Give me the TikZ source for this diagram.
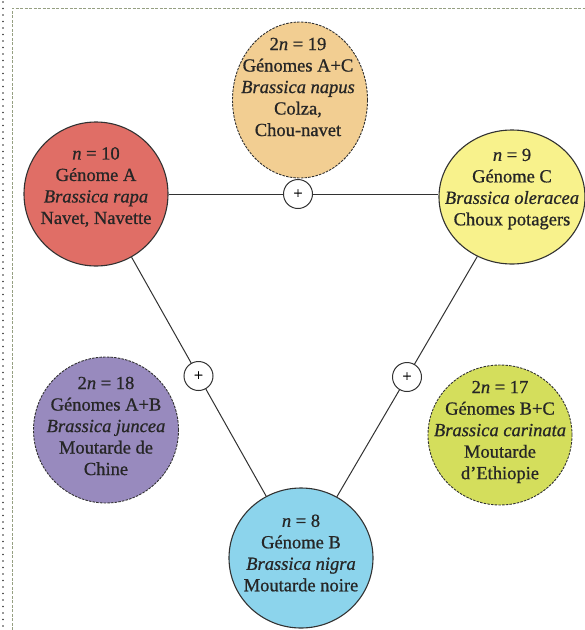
\documentclass[tikz,border=0pt]{standalone}
\usepackage{fontspec}
\setmainfont[FakeBold=0.8]{Liberation Serif}
\usetikzlibrary{shapes.geometric}
\definecolor{cA}{RGB}{224,110,102}
\definecolor{cAC}{RGB}{242,206,146}
\definecolor{cC}{RGB}{248,242,140}
\definecolor{cB}{RGB}{140,212,236}
\definecolor{cAB}{RGB}{152,138,190}
\definecolor{cBC}{RGB}{212,222,92}
\definecolor{lin}{RGB}{50,50,50}
\definecolor{frm}{RGB}{150,160,130}
\tikzset{
  gen/.style={ellipse, draw=lin, line width=1.1pt, inner sep=0pt},
  hyb/.style={ellipse, draw=lin, line width=0.9pt, dash pattern=on 2.5pt off 1.2pt, inner sep=0pt},
  txt/.style={align=center, font=\fontsize{18.5}{21.5}\selectfont, inner sep=0pt, text=black!85},
  plus/.style={circle, draw=lin, fill=white, line width=1pt, minimum size=29pt, inner sep=0pt, font=\fontsize{16}{16}\selectfont},
  conn/.style={draw=lin, line width=1pt}
}
\begin{document}
\begin{tikzpicture}[x=1pt,y=-1pt]
\useasboundingbox (0,0) rectangle (585,630);
% frame
\draw[frm, line width=0.8pt, dash pattern=on 3pt off 1.5pt] (12,630) -- (12,8) -- (585,8);
\draw[lin, line width=1.6pt, line cap=round, dash pattern=on 0pt off 6.5pt] (3,2) -- (3,630);
% genome circles
\node[gen, fill=cA, minimum width=144pt, minimum height=144pt] (A) at (96,194) {};
\node[gen, fill=cC, minimum width=146pt, minimum height=134pt] (C) at (512,197) {};
\node[gen, fill=cB, minimum width=144pt, minimum height=140pt] (B) at (301,558) {};
% hybrids
\node[hyb, fill=cAC, minimum width=135pt, minimum height=156pt] (AC) at (300,100) {};
\node[hyb, fill=cAB, minimum width=145pt, minimum height=146pt] (AB) at (106,430) {};
\node[hyb, fill=cBC, minimum width=144pt, minimum height=140pt] (BC) at (500,435) {};
% plus nodes
\node[plus] (p1) at (298,194) {+};
\node[plus] (p2) at (198.5,376) {+};
\node[plus] (p3) at (407,377) {+};
% connectors
\draw[conn] (A.east |- p1) -- (p1);
\draw[conn] (p1) -- (p1 -| C.west);
\draw[conn] (A) -- (p2);
\draw[conn] (p2) -- (B);
\draw[conn] (C) -- (p3);
\draw[conn] (p3) -- (B);
% texts
\node[txt] (tA) at (96,187) {\textit{n} = 10\\Génome A\\\textit{Brassica rapa}\\Navet, Navette};
\node[txt] (tC) at (512,189) {\textit{n} = 9\\Génome C\\\textit{Brassica oleracea}\\Choux potagers};
\node[txt] (tB) at (301,553) {\textit{n} = 8\\Génome B\\\textit{Brassica nigra}\\Moutarde noire};
\node[txt] (tAC) at (298,87) {2\textit{n} = 19\\Génomes A+C\\\textit{Brassica napus}\\Colza,\\Chou-navet};
\node[txt] (tAB) at (106,426) {2\textit{n} = 18\\Génomes A+B\\\textit{Brassica juncea}\\Moutarde de\\Chine};
\node[txt] (tBC) at (500,432) {2\textit{n} = 17\\Génomes B+C\\\textit{Brassica carinata}\\Moutarde\\d'Ethiopie};
\end{tikzpicture}
\end{document}
